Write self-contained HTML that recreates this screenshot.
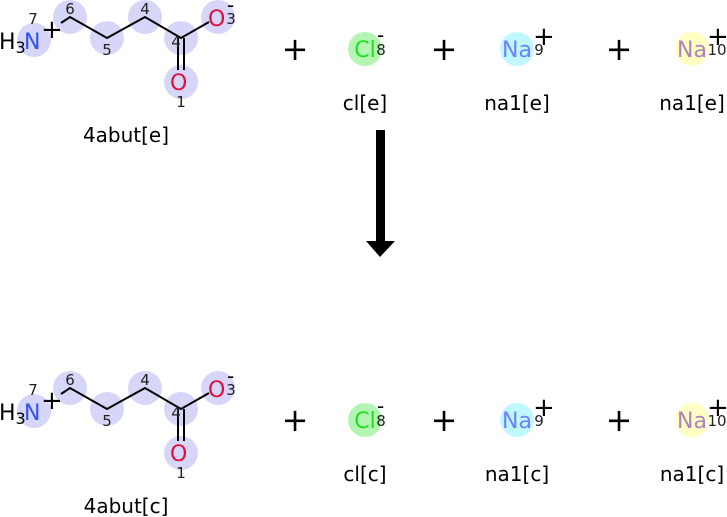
<!DOCTYPE html>
<html><head><style>body{margin:0;background:#fff}svg{display:block}text{font-family:"DejaVu Sans","Liberation Sans",sans-serif}</style></head><body>
<svg width="727" height="517" viewBox="0 0 727 517" xmlns="http://www.w3.org/2000/svg">
<defs>
<g id="m">
<g fill="#d6d6f8">
<circle cx="34" cy="40" r="17"/><circle cx="70" cy="17" r="17"/><circle cx="107" cy="38" r="17"/>
<circle cx="145" cy="17" r="17"/><circle cx="181" cy="38" r="17"/><circle cx="218" cy="17" r="17"/>
<circle cx="181" cy="82" r="17"/>
<circle cx="365" cy="49" r="17" fill="#b4f5b4"/><circle cx="517" cy="49" r="17" fill="#bff8ff"/><circle cx="692" cy="49" r="17" fill="#ffffc4"/>
</g>
<g stroke="#000" stroke-width="2" fill="none">
<polyline points="61,23 70,17 107,38 145,17 181,38 209,22"/>
<line x1="178" y1="38" x2="178" y2="70"/><line x1="184" y1="38" x2="184" y2="70"/>
</g>
<text x="-1" y="49" font-size="22">H<tspan font-size="16" dy="4">3</tspan></text>
<text x="24" y="49" font-size="22" fill="#3050f8">N</text>
<text x="41" y="38" font-size="26">+</text>
<text x="208" y="26" font-size="22" fill="#e0103a">O</text>
<text x="227" y="12" font-size="20">-</text>
<text x="170" y="90" font-size="22" fill="#e0103a">O</text>
<g font-size="15" fill="#222" text-anchor="middle">
<text x="33" y="24">7</text><text x="70" y="14">6</text><text x="107" y="55">5</text>
<text x="145" y="14">4</text><text x="176" y="47">4</text><text x="231" y="24">3</text><text x="181" y="107">1</text>
<text x="381" y="55">8</text><text x="539" y="55">9</text><text x="717" y="55">10</text>
</g>
<text x="365" y="57" font-size="22" fill="#20e020" text-anchor="middle">Cl</text>
<text x="377" y="42" font-size="20">-</text>
<text x="517" y="57" font-size="22" fill="#7080ff" text-anchor="middle">Na</text>
<text x="692" y="57" font-size="22" fill="#b080c0" text-anchor="middle">Na</text>
<text x="533" y="45" font-size="26">+</text><text x="707" y="45" font-size="26">+</text>
<g font-size="32" text-anchor="middle"><text x="295" y="60">+</text><text x="444" y="60">+</text><text x="619" y="60">+</text></g>
</g>
</defs>
<use href="#m"/>
<g font-size="20" text-anchor="middle">
<text x="126" y="142">4abut[e]</text><text x="365" y="110">cl[e]</text><text x="517" y="110">na1[e]</text><text x="692" y="110">na1[e]</text>
</g>
<rect x="376" y="130" width="9" height="112" fill="#000"/>
<polygon points="366,241 395,241 380,257" fill="#000"/>
<use href="#m" y="371"/>
<g font-size="20" text-anchor="middle">
<text x="126" y="513">4abut[c]</text><text x="365" y="481">cl[c]</text><text x="517" y="481">na1[c]</text><text x="692" y="481">na1[c]</text>
</g>
</svg>
</body></html>
